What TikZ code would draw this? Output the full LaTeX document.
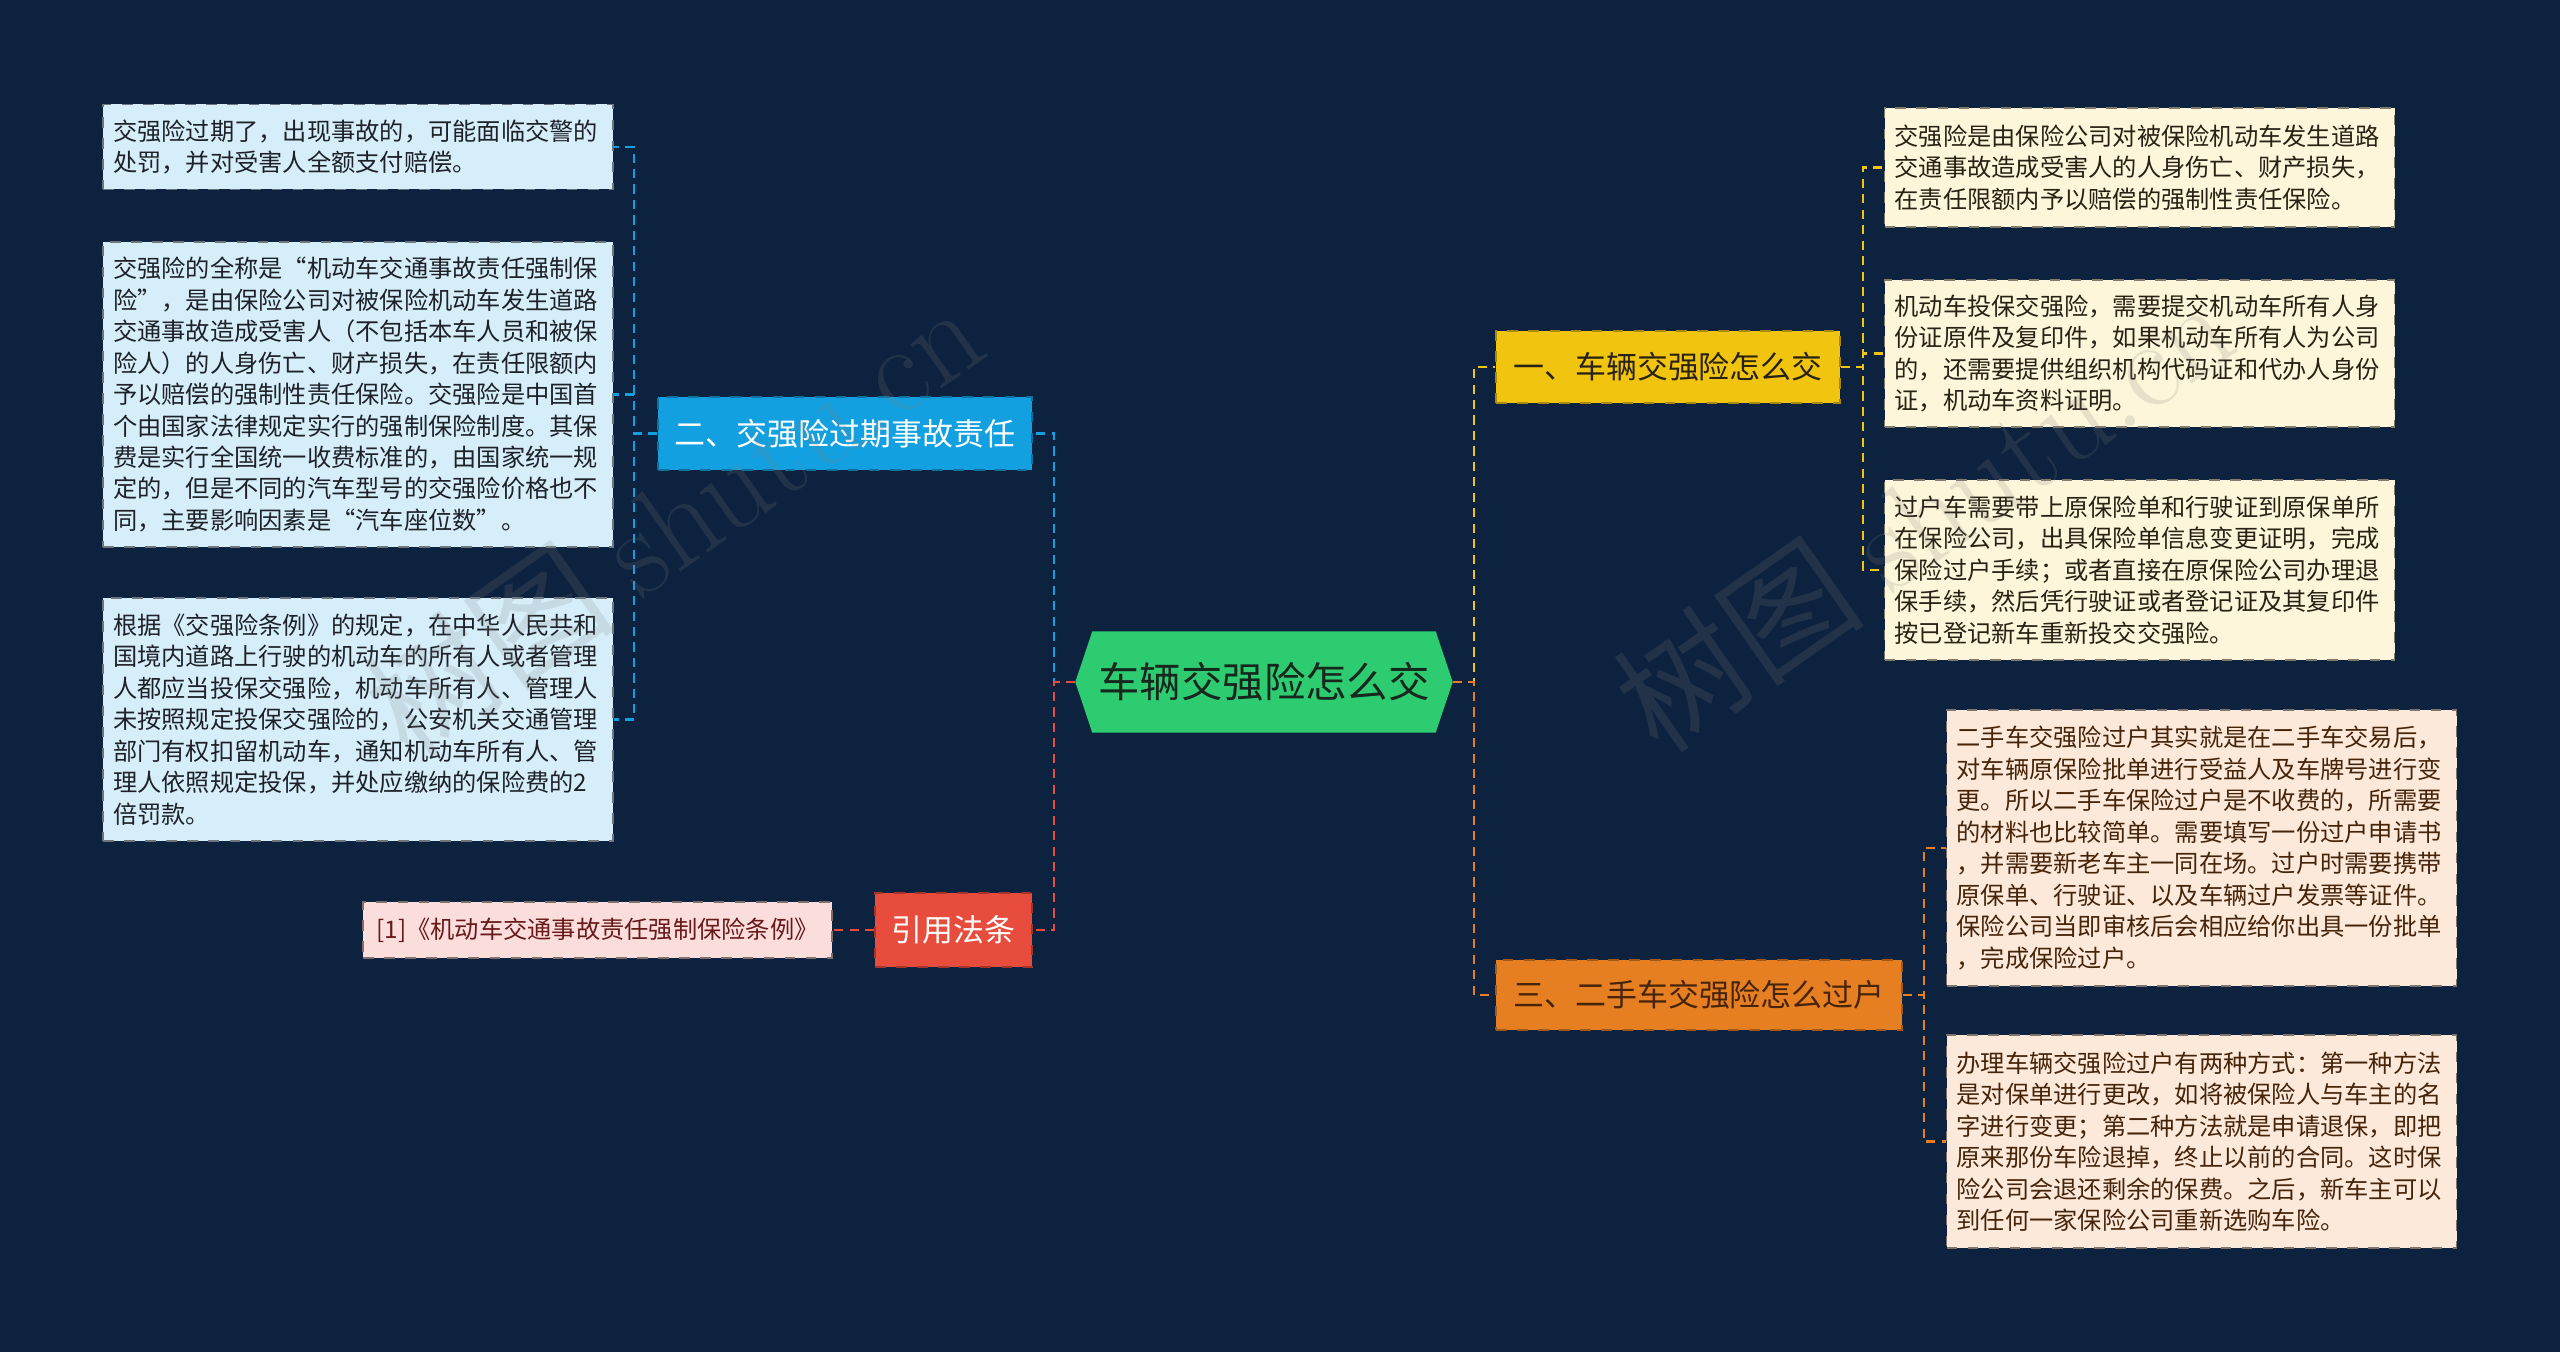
\documentclass[tikz,border=0pt]{standalone}
\usepackage{fontspec}
\newfontfamily\cjk{Noto Sans CJK SC}
\definecolor{bgnavy}{RGB}{13,34,62}
\definecolor{rootgreen}{RGB}{46,204,113}
\definecolor{roottxt}{RGB}{22,40,30}
\definecolor{ybranch}{RGB}{241,196,15}
\definecolor{obranch}{RGB}{230,126,34}
\definecolor{bbranch}{RGB}{18,160,224}
\definecolor{rbranch}{RGB}{231,76,60}
\definecolor{bleaf}{RGB}{214,238,250}
\definecolor{yleaf}{RGB}{253,246,218}
\definecolor{oleaf}{RGB}{252,233,218}
\definecolor{rleaf}{RGB}{251,222,220}
\definecolor{darktxt}{RGB}{40,34,20}
\definecolor{btxt}{RGB}{30,34,40}
\definecolor{otxt}{RGB}{70,36,10}
\definecolor{rtxt}{RGB}{105,25,25}
\tikzset{
  branch/.style 2 args={rectangle, fill=#1, draw=#1!70!black, text=#2, dashed,
    line width=0.4pt, inner sep=0pt, minimum height=0.72cm,
    font=\cjk\fontsize{8.8}{10}\selectfont},
  leaf/.style 2 args={rectangle, fill=#1, draw=#1!50!black, text=#2, dashed,
    line width=0.4pt, text width=4.9cm, inner xsep=0.1cm, inner ysep=0pt,
    align=left, font=\cjk\fontsize{6.9}{8.96}\selectfont},
  conn/.style={draw=#1, line width=0.65pt, dash pattern=on 2.6pt off 1.8pt},
  watermark/.style={text=gray, opacity=0.18, font=\cjk\fontsize{36}{38}\selectfont}
}
\begin{document}
\begin{tikzpicture}
\fill[bgnavy] (0,0) rectangle (25.6,-13.52);
\useasboundingbox (0,0) rectangle (25.6,-13.52);

% centre
\node[minimum width=3.76cm, minimum height=1.0cm, inner sep=0pt] (root) at (12.64,-6.82) {};
\fill[rootgreen] ([xshift=0.17cm]root.north west) -- ([xshift=-0.17cm]root.north east)
  -- (root.east) -- ([xshift=-0.17cm]root.south east)
  -- ([xshift=0.17cm]root.south west) -- (root.west) -- cycle;
\node[text=roottxt, font=\cjk\fontsize{11.8}{13}\selectfont] (rootlabel) at (root.center) {车辆交强险怎么交};

% branches
\node[branch={ybranch}{darktxt}, minimum width=3.44cm] (b1) at (16.68,-3.67) {一、车辆交强险怎么交};
\node[branch={obranch}{otxt}, minimum width=4.06cm, minimum height=0.70cm] (b3) at (16.99,-9.95) {三、二手车交强险怎么过户};
\node[branch={bbranch}{white}, minimum width=3.74cm, minimum height=0.73cm] (b2) at (8.45,-4.335) {二、交强险过期事故责任};
\node[branch={rbranch}{white}, minimum width=1.57cm, minimum height=0.74cm] (b4) at (9.535,-9.30) {引用法条};

% left leaves
\node[leaf={bleaf}{btxt}, minimum height=0.85cm] (l1) at (3.58,-1.47) {交强险过期了，出现事故的，可能面临交警的\\
处罚，并对受害人全额支付赔偿。};
\node[leaf={bleaf}{btxt}, minimum height=3.05cm] (l2) at (3.58,-3.945) {交强险的全称是“机动车交通事故责任强制保\\
险”，是由保险公司对被保险机动车发生道路\\
交通事故造成受害人（不包括本车人员和被保\\
险人）的人身伤亡、财产损失，在责任限额内\\
予以赔偿的强制性责任保险。交强险是中国首\\
个由国家法律规定实行的强制保险制度。其保\\
费是实行全国统一收费标准的，由国家统一规\\
定的，但是不同的汽车型号的交强险价格也不\\
同，主要影响因素是“汽车座位数”。};
\node[leaf={bleaf}{btxt}, minimum height=2.43cm] (l3) at (3.58,-7.195) {根据《交强险条例》的规定，在中华人民共和\\
国境内道路上行驶的机动车的所有人或者管理\\
人都应当投保交强险，机动车所有人、管理人\\
未按照规定投保交强险的，公安机关交通管理\\
部门有权扣留机动车，通知机动车所有人、管\\
理人依照规定投保，并处应缴纳的保险费的2\\
倍罚款。};
\node[rectangle, fill=rleaf, draw=rleaf!50!black, dashed, line width=0.4pt, text=rtxt,
  minimum width=4.69cm, minimum height=0.56cm, inner sep=0pt,
  font=\cjk\fontsize{6.9}{8}\selectfont] (r0) at (5.975,-9.30) {[1]《机动车交通事故责任强制保险条例》};

% right leaves
\node[leaf={yleaf}{darktxt}, minimum height=1.19cm] (r1) at (21.395,-1.675) {交强险是由保险公司对被保险机动车发生道路\\
交通事故造成受害人的人身伤亡、财产损失，\\
在责任限额内予以赔偿的强制性责任保险。};
\node[leaf={yleaf}{darktxt}, minimum height=1.47cm] (r2) at (21.395,-3.535) {机动车投保交强险，需要提交机动车所有人身\\
份证原件及复印件，如果机动车所有人为公司\\
的，还需要提供组织机构代码证和代办人身份\\
证，机动车资料证明。};
\node[leaf={yleaf}{darktxt}, minimum height=1.80cm] (r3) at (21.395,-5.70) {过户车需要带上原保险单和行驶证到原保单所\\
在保险公司，出具保险单信息变更证明，完成\\
保险过户手续；或者直接在原保险公司办理退\\
保手续，然后凭行驶证或者登记证及其复印件\\
按已登记新车重新投交交强险。};
\node[leaf={oleaf}{otxt}, minimum height=2.76cm] (r4) at (22.015,-8.48) {二手车交强险过户其实就是在二手车交易后，\\
对车辆原保险批单进行受益人及车牌号进行变\\
更。所以二手车保险过户是不收费的，所需要\\
的材料也比较简单。需要填写一份过户申请书\\
，并需要新老车主一同在场。过户时需要携带\\
原保单、行驶证、以及车辆过户发票等证件。\\
保险公司当即审核后会相应给你出具一份批单\\
，完成保险过户。};
\node[leaf={oleaf}{otxt}, minimum height=2.13cm] (r5) at (22.015,-11.415) {办理车辆交强险过户有两种方式：第一种方法\\
是对保单进行更改，如将被保险人与车主的名\\
字进行变更；第二种方法就是申请退保，即把\\
原来那份车险退掉，终止以前的合同。这时保\\
险公司会退还剩余的保费。之后，新车主可以\\
到任何一家保险公司重新选购车险。};

% connectors
\draw[conn=bbranch] (root.west) -- ++(-0.21,0) |- (b2.east);
\draw[conn=rbranch] (root.west) -- ++(-0.21,0) |- (b4.east);
\draw[conn=ybranch] (root.east) -- ++(0.21,0) |- (b1.west);
\draw[conn=obranch] (root.east) -- ++(0.21,0) |- (b3.west);
\foreach \leaf in {l1,l2,l3}
  \draw[conn=bbranch] (b2.west) -- ++(-0.23,0) |- (\leaf.east);
\foreach \leaf in {r1,r2,r3}
  \draw[conn=ybranch] (b1.east) -- ++(0.22,0) |- (\leaf.west);
\foreach \leaf in {r4,r5}
  \draw[conn=obranch] (b3.east) -- ++(0.21,0) |- (\leaf.west);
\draw[conn=rbranch] (b4.west) -- (r0.east);

% watermarks
\node[watermark, rotate=35] (wmleft) at (6.73,-5.19) {树图 {\rmfamily shutu.cn}};
\node[watermark, rotate=35] (wmright) at (19.23,-5.14) {树图 {\rmfamily shutu.cn}};
\end{tikzpicture}
\end{document}
